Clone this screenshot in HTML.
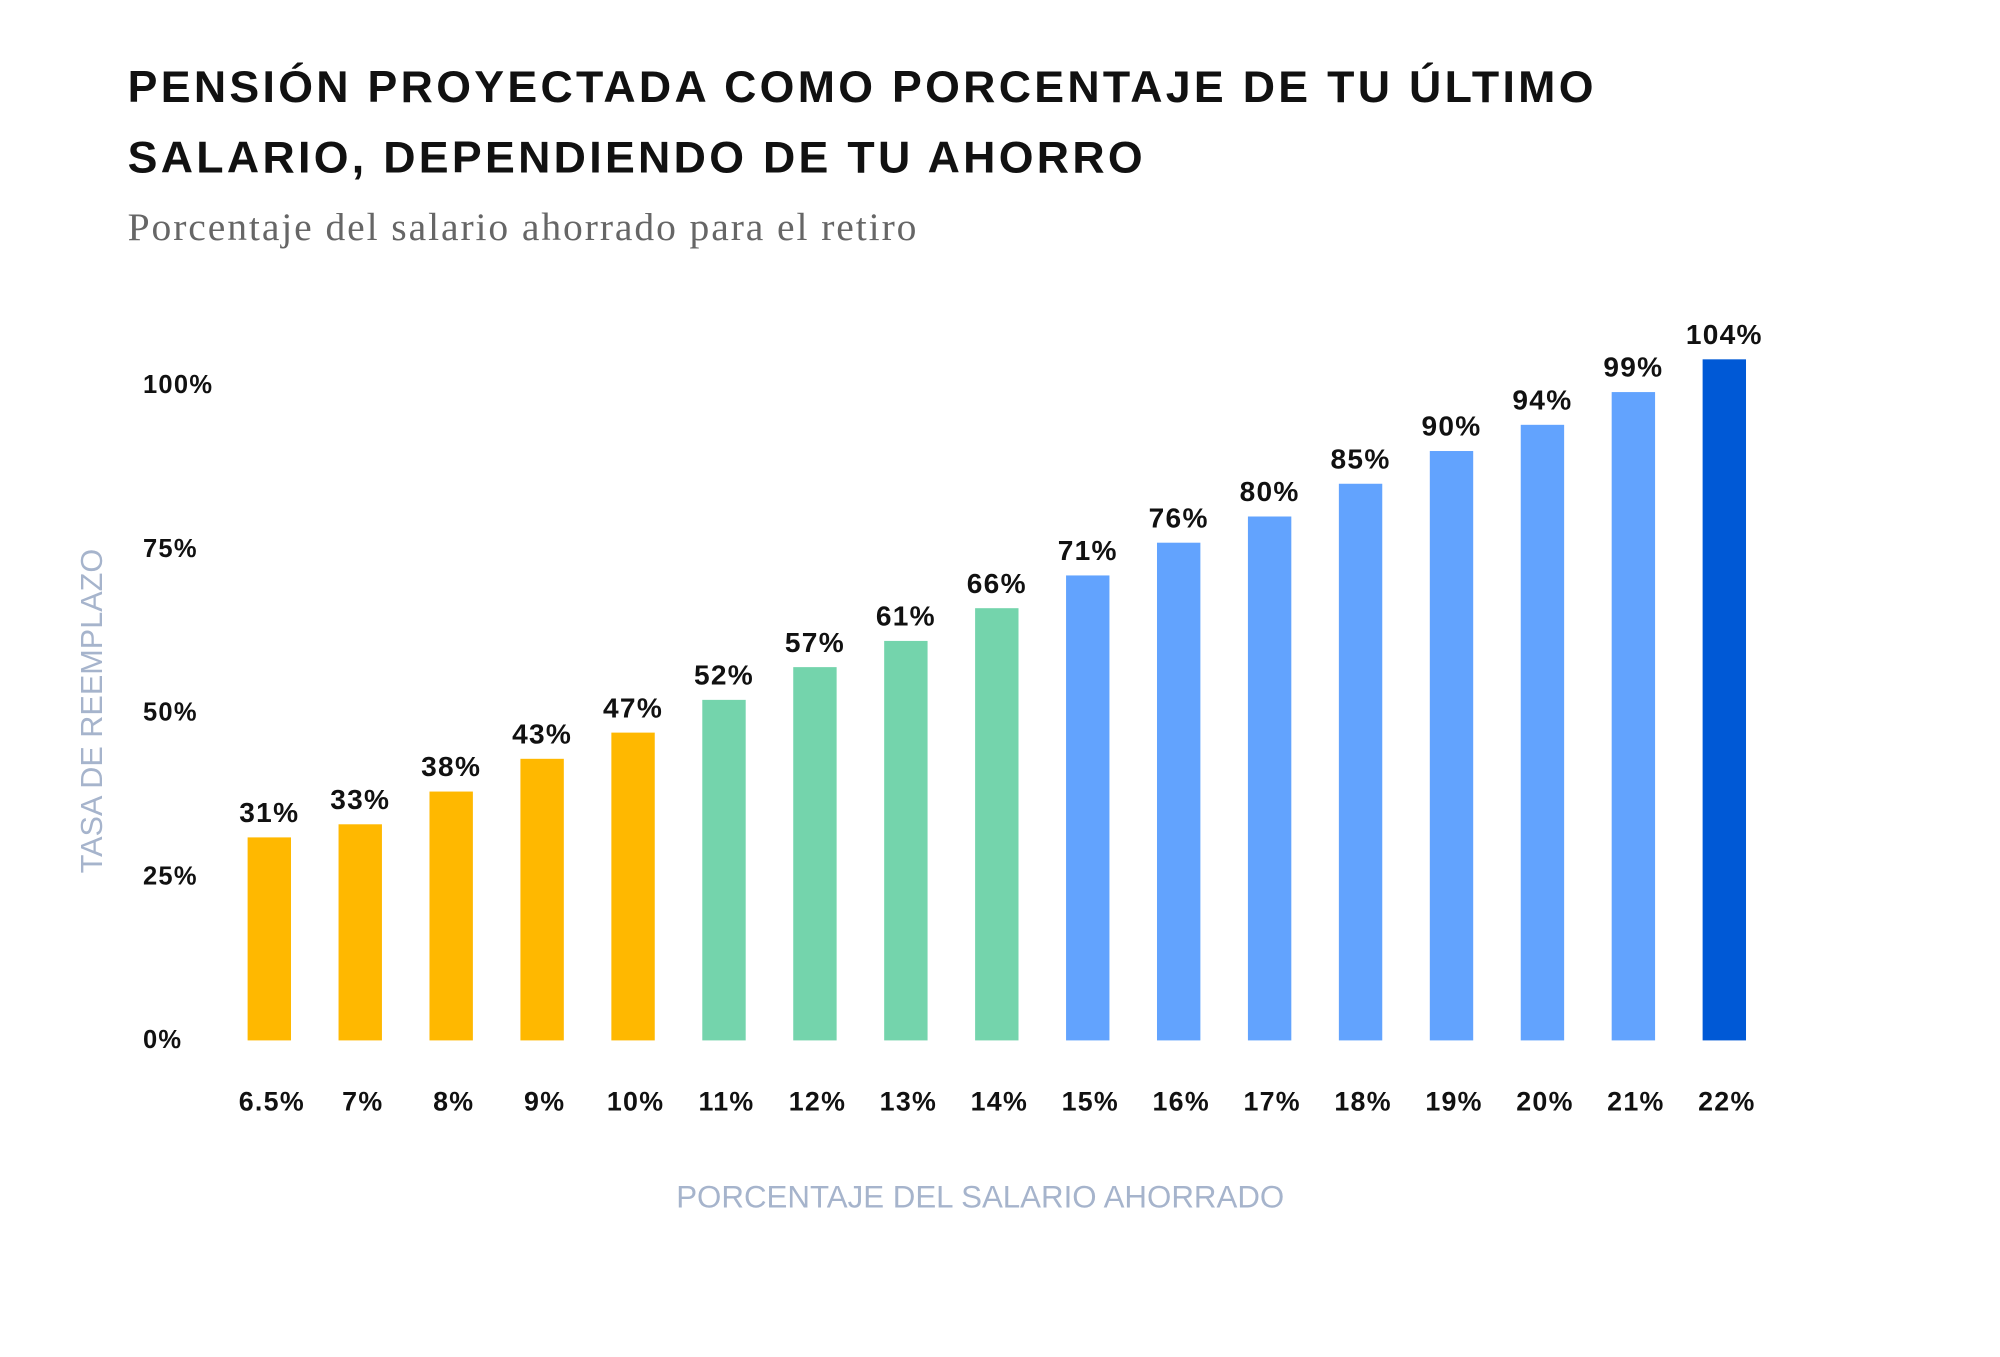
<!DOCTYPE html>
<html><head><meta charset="utf-8"><style>
html,body{margin:0;padding:0;background:#fff;}
svg{display:block;}
</style></head><body>
<svg width="2000" height="1357" viewBox="0 0 1567 1063" preserveAspectRatio="none" xmlns="http://www.w3.org/2000/svg" font-family="Liberation Sans, sans-serif">
<text x="100" y="80" font-size="35" font-weight="bold" letter-spacing="2.6" fill="#111">PENSIÓN PROYECTADA COMO PORCENTAJE DE TU ÚLTIMO</text>
<text x="100" y="135" font-size="35" font-weight="bold" letter-spacing="2.6" fill="#111">SALARIO, DEPENDIENDO DE TU AHORRO</text>
<text x="100" y="188" font-size="31" letter-spacing="1.5" font-family="Liberation Serif, serif" fill="#666">Porcentaje del salario ahorrado para el retiro</text>
<text transform="translate(80,557) rotate(-90)" text-anchor="middle" font-size="24" fill="#A6B4CC">TASA DE REEMPLAZO</text>
<text x="768" y="946" text-anchor="middle" font-size="24.5" fill="#A6B4CC">PORCENTAJE DEL SALARIO AHORRADO</text>
<g id="yticks"></g>
<g id="bars"></g>
</svg>
<script>
const categories = ["6.5%","7%","8%","9%","10%","11%","12%","13%","14%","15%","16%","17%","18%","19%","20%","21%","22%"];
const values = [31,33,38,43,47,52,57,61,66,71,76,80,85,90,94,99,104];
const groups = ["a","a","a","a","a","b","b","b","b","c","c","c","c","c","c","c","d"];
const yTicks = [0,25,50,75,100];
const yTickLabels = ["0%","25%","50%","75%","100%"];
const colors = {a:"#FFB800",b:"#74D4AC",c:"#62A3FE",d:"#0059D6"};
const NS="http://www.w3.org/2000/svg";
const y0=815, pxPer=5.13, x0=211, step=71.25, bw=34;
const yScale=v=>y0-v*pxPer;
const xScale=i=>x0+i*step;
const yg=document.getElementById('yticks');
yTicks.forEach((t,i)=>{
  const el=document.createElementNS(NS,'text');
  
  
  el.setAttribute('x',112);el.setAttribute('y',yScale(t)+6);
  el.setAttribute('font-size','20');el.setAttribute('font-weight','bold');el.setAttribute('letter-spacing','1');el.setAttribute('fill','#111');
  el.textContent=yTickLabels[i];yg.appendChild(el);
});
const bg=document.getElementById('bars');
values.forEach((v,i)=>{
  const cx=xScale(i);
  const r=document.createElementNS(NS,'rect');
  
  
  r.setAttribute('x',cx-bw/2);r.setAttribute('y',yScale(v));r.setAttribute('width',bw);r.setAttribute('height',v*pxPer);
  r.setAttribute('fill',colors[groups[i]]);bg.appendChild(r);
  const t=document.createElementNS(NS,'text');
  
  
  t.setAttribute('x',cx);t.setAttribute('y',yScale(v)-12);t.setAttribute('text-anchor','middle');
  t.setAttribute('font-size','22');t.setAttribute('font-weight','bold');t.setAttribute('letter-spacing','1');t.setAttribute('fill','#111');
  t.textContent=v+'%';bg.appendChild(t);
  const c=document.createElementNS(NS,'text');
  
  
  c.setAttribute('x',cx+2);c.setAttribute('y',870);c.setAttribute('text-anchor','middle');
  c.setAttribute('font-size','21');c.setAttribute('font-weight','bold');c.setAttribute('letter-spacing','1');c.setAttribute('fill','#111');
  c.textContent=categories[i];bg.appendChild(c);
});
</script>
</body></html>
